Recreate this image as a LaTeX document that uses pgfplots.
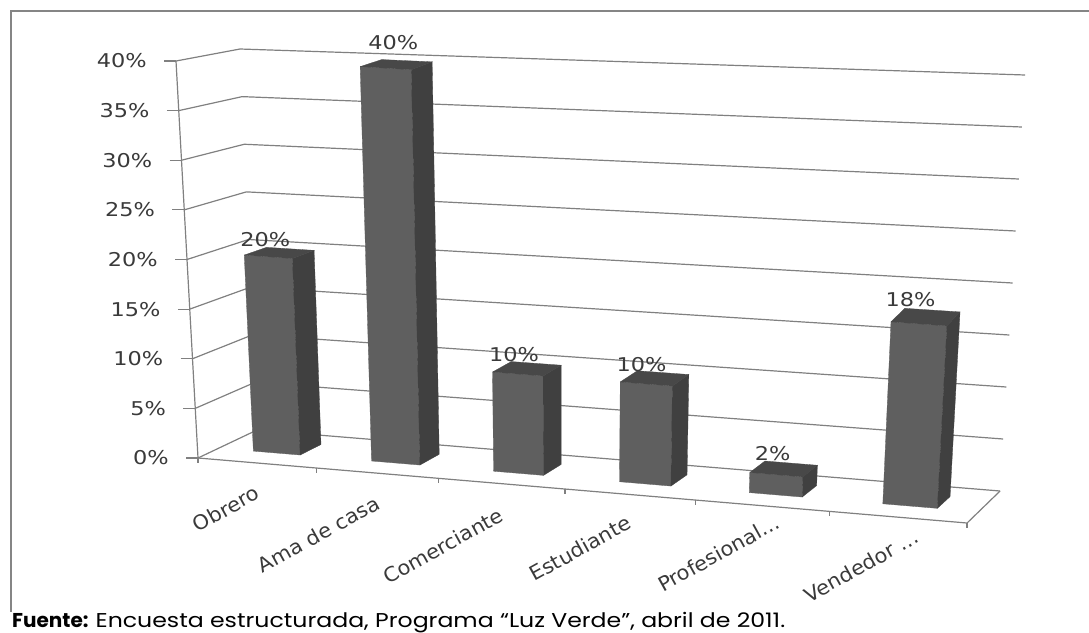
\documentclass[border=0pt]{standalone}
\usepackage{graphicx}
\usepackage{fontspec}
\setmainfont{DejaVu Sans}
\newfontfamily\capfont{Poppins}
\usepackage{pgfplots}
\usepackage{pgfplotstable}
\pgfplotsset{compat=1.18}

\definecolor{frontc}{HTML}{5F5F5F}
\definecolor{sidec}{HTML}{404040}
\definecolor{topc}{HTML}{484848}
\definecolor{gridc}{HTML}{808080}
\definecolor{framec}{HTML}{858585}
\definecolor{txtc}{HTML}{3A3A3A}

% value labels: category slot, percent, shift of the label
\pgfplotstableread{
s   v   ox  oy
0.5 20  -14 13
1.5 40  -3  22
2.5 10  -13 14
3.5 10  -13 14
4.5 2   -11 15
5.5 18  -15 17
}\valdata

% category names under the front edge
\pgfplotstableread{
s   v ox  oy  name
0.5 0 -13 -25 Obrero
1.5 0 -13 -25 {Ama de casa}
2.5 0 -14 -26 Comerciante
3.5 0 -13 -23 Estudiante
4.5 0 7   -21 Profesional...
5.5 0 8   -25 {Vendedor ...}
}\catdata

\pgfplotstableread{
s d v
0 0 0
0 0 5
0 0 10
0 0 15
0 0 20
0 0 25
0 0 30
0 0 35
0 0 40
}\ticksv

% projection of the Excel 3-D box: s = slot 0..6, d = depth 0..1, v = percent
\pgfmathdeclarefunction{cu}{1}{\pgfmathparse{0.1515*#1+0.00253*#1*#1}}
\pgfmathdeclarefunction{px}{3}{\pgfmathparse{(1-#3/40)*((1-#2)*(198+769*cu(#1))+#2*(257+743*cu(#1)))+(#3/40)*((1-#2)*(176+814*cu(#1))+#2*(240+785*cu(#1)))}}
\pgfmathdeclarefunction{py}{3}{\pgfmathparse{(1-#3/40)*((1-#2)*(458+65*cu(#1))+#2*(430+61*cu(#1)))+(#3/40)*((1-#2)*(61+61*cu(#1))+#2*(49+26*cu(#1)))}}

\pgfplotsset{/pgfplots/table/proj/.style={
  x expr={px(\thisrow{s},\thisrow{d},\thisrow{v})},
  y expr={py(\thisrow{s},\thisrow{d},\thisrow{v})}}}

% one sided tick marks
\pgfdeclareplotmark{ltick}{\pgfpathmoveto{\pgfpoint{-12pt}{0pt}}\pgfpathlineto{\pgfpointorigin}\pgfusepathqstroke}
\pgfdeclareplotmark{dtick}{\pgfpathmoveto{\pgfpointorigin}\pgfpathlineto{\pgfpoint{0pt}{-5pt}}\pgfusepathqstroke}

\newcommand\gridline[1]{\addplot[gridc,line width=1.2pt] table[proj,row sep=\\]{s d v\\ 0 0 #1\\ 0 1 #1\\ 6 1 #1\\};}
\newcommand\drawbar[2]{%
  \addplot[fill=frontc,draw=frontc,line width=.3pt] table[proj,row sep=\\]{s d v\\ #1.3 .35 0\\ #1.7 .35 0\\ #1.7 .35 #2\\ #1.3 .35 #2\\ #1.3 .35 0\\};
  \addplot[fill=sidec,draw=sidec,line width=.3pt] table[proj,row sep=\\]{s d v\\ #1.7 .35 0\\ #1.7 .72 0\\ #1.7 .72 #2\\ #1.7 .35 #2\\ #1.7 .35 0\\};
  \addplot[fill=topc,draw=topc,line width=.3pt] table[proj,row sep=\\]{s d v\\ #1.3 .35 #2\\ #1.7 .35 #2\\ #1.7 .72 #2\\ #1.3 .72 #2\\ #1.3 .35 #2\\};
}

\begin{document}
\begin{tikzpicture}
\useasboundingbox (0,0) rectangle (1089pt,632pt);
\begin{axis}[
  at={(0,0)},anchor=south west,
  scale only axis,width=1089pt,height=632pt,
  xmin=0,xmax=1089,ymin=0,ymax=632,y dir=reverse,
  hide axis,clip=false,
  /pgf/number format/assume math mode=true,
]
% frame of the pasted picture
\addplot[framec,line width=2.4pt] coordinates {(1089,11) (11,11) (11,612)};

% walls and floor
\pgfplotsinvokeforeach{0,5,...,40}{\gridline{#1}}
\addplot[gridc,line width=1.2pt] table[proj,row sep=\\]{s d v\\ 0 0 0\\ 0 0 40\\};
\addplot[gridc,line width=1.2pt] table[proj,row sep=\\]{s d v\\ 0 0 0\\ 6 0 0\\ 6 1 0\\};

% tick marks
\addplot[gridc,only marks,mark=ltick,line width=1.2pt] table[proj] {\ticksv};
\addplot[gridc,only marks,mark=dtick,line width=1.2pt]
  table[proj,row sep=\\]{s d v\\ 0 0 0\\ 1 0 0\\ 2 0 0\\ 3 0 0\\ 4 0 0\\ 5 0 0\\ 6 0 0\\};

% bars
\drawbar{0}{20}
\drawbar{1}{40}
\drawbar{2}{10}
\drawbar{3}{10}
\drawbar{4}{2}
\drawbar{5}{18}

% y axis labels
\addplot[only marks,mark=none,point meta=explicit,
  nodes near coords={\scalebox{1.18}[1]{\pgfmathprintnumber{\pgfplotspointmeta}\%}},
  every node near coord/.append style={anchor=east,xshift=-29pt,font=\fontsize{19}{19}\selectfont,text=txtc,inner sep=0pt}]
  table[proj,meta=v] {\ticksv};

% value labels
\addplot[only marks,mark=none,point meta=explicit,
  visualization depends on={\thisrow{ox} \as \ox},
  visualization depends on={\thisrow{oy} \as \oy},
  nodes near coords={\scalebox{1.18}[1]{\pgfmathprintnumber{\pgfplotspointmeta}\%}},
  every node near coord/.append style={anchor=center,xshift=\ox pt,yshift=\oy pt,font=\fontsize{19}{19}\selectfont,text=txtc,inner sep=0pt}]
  table[x expr={px(\thisrow{s},0.535,\thisrow{v})},y expr={py(\thisrow{s},0.535,\thisrow{v})},meta=v] {\valdata};

% category labels
\addplot[only marks,mark=none,point meta=explicit symbolic,
  visualization depends on={\thisrow{ox} \as \ox},
  visualization depends on={\thisrow{oy} \as \oy},
  nodes near coords={\scalebox{1.05}[1]{\pgfplotspointmeta}},
  every node near coord/.append style={anchor=east,rotate=29,xshift=\ox pt,yshift=\oy pt,font=\fontsize{20}{20}\selectfont,text=txtc,inner sep=0pt}]
  table[x expr={px(\thisrow{s},0,0)},y expr={py(\thisrow{s},0,0)},meta=name] {\catdata};

% source line
\node[anchor=base west,inner sep=0pt,font=\capfont\fontsize{20}{20}\selectfont] at (axis cs:12,627)
  {\textbf{Fuente:} \scalebox{1.18}[1]{Encuesta estructurada, Programa “Luz Verde”, abril de 2011.}};
\end{axis}
\end{tikzpicture}
\end{document}
